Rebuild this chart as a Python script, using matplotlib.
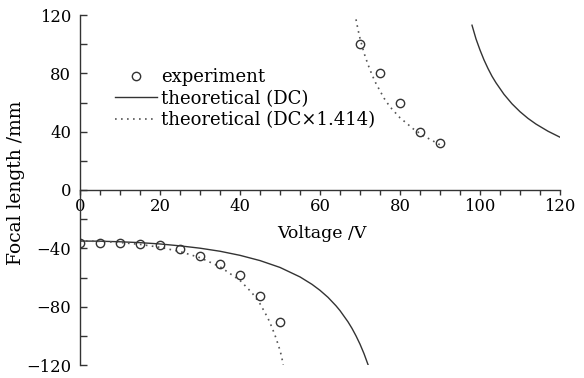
import numpy as np
import matplotlib
matplotlib.use("Agg")
import matplotlib.pyplot as plt
from matplotlib.ticker import MultipleLocator

# ---- data ----
exp_v = [0, 5, 10, 15, 20, 25, 30, 35, 40, 45, 50, 70, 75, 80, 85, 90]
exp_f = [-36, -36, -36, -37, -38, -40.5, -45.5, -50.5, -58.5, -72.5, -90.5,
         100, 80, 60, 40, 32]

dc_neg_v = [0, 5, 10, 15, 20, 25, 30, 35, 40, 45, 50, 55, 58, 60, 62, 64, 65,
            67, 68, 69, 70, 71, 72]
dc_neg_f = [-35.0, -35.1, -35.5, -36.1, -37.0, -38.3, -39.9, -42.0, -44.8, -48.4,
            -53.1, -59.6, -64.7, -68.8, -73.6, -79.4, -82.7, -90.4, -94.9,
            -100.0, -105.7, -112.2, -119.7]
dc_pos_v = [98, 99, 100, 101, 102, 103, 104, 106, 108, 110, 112, 114, 117, 120]
dc_pos_f = [113, 103.6, 96, 89.2, 83.3, 78, 73.5, 65.6, 59.1, 53.7, 49.1, 45.2,
            40.3, 36.2]

ac_neg_v = [0, 5, 10, 15, 20, 25, 30, 35, 40, 43, 44, 45, 46, 47, 48, 49,
            49.5, 50, 50.4, 50.8]
ac_neg_f = [-35.0, -35.2, -36.0, -37.3, -39.3, -42.2, -46.4, -52.6, -62.0, -70.5,
            -74.2, -78.0, -82.9, -88.0, -94.3, -101.5, -105.7, -110.0, -114.2,
            -120.0]
ac_pos_v = [69, 69.5, 70, 71, 72, 73, 74, 75, 76, 77, 78, 79, 80, 82, 83, 86,
            88, 90]
ac_pos_f = [117, 110, 104, 94, 86, 79, 73, 68, 63, 59, 55.5, 52.5, 49.5, 45,
            42.5, 37, 34, 31]

x_ticks = [0, 20, 40, 60, 80, 100, 120]
y_ticks = [-120, -80, -40, 0, 40, 80, 120]

plt.rcParams['font.family'] = ['DejaVu Serif']
col = '#333333'

fig = plt.figure(figsize=(5.84, 3.78), dpi=100)
ax = fig.add_axes([80/584, 13/378, 480/584, 350/378])

dot = (0, (1, 2.6))
ax.plot(dc_neg_v, dc_neg_f, '-', color=col, lw=1.0, label='theoretical (DC)')
ax.plot(dc_pos_v, dc_pos_f, '-', color=col, lw=1.0)
ax.plot(ac_neg_v, ac_neg_f, linestyle=dot, color='#555555', lw=1.2,
        label='theoretical (DC\u00d71.414)')
ax.plot(ac_pos_v, ac_pos_f, linestyle=dot, color='#555555', lw=1.2)
ax.plot(exp_v, exp_f, 'o', mfc='none', mec=col, mew=1.0, ms=6,
        label='experiment')

ax.set_xlim(0, 120)
ax.set_ylim(-120, 120)
ax.spines['top'].set_visible(False)
ax.spines['right'].set_visible(False)
ax.spines['bottom'].set_position(('data', 0))
ax.spines['left'].set_position(('data', 0))
for s in ('bottom', 'left'):
    ax.spines[s].set_color(col)
    ax.spines[s].set_linewidth(1.0)

ax.set_xticks(x_ticks)
ax.set_xticklabels([str(t) for t in x_ticks])
ax.xaxis.set_minor_locator(MultipleLocator(5))
ax.set_yticks(y_ticks)
ax.set_yticklabels([str(t).replace('-', '\u2212') for t in y_ticks])
ax.yaxis.set_minor_locator(MultipleLocator(20))

ax.tick_params(axis='x', which='both', direction='out', length=3.5, width=1,
               color=col, pad=2, labelsize=11.8)
ax.tick_params(axis='y', which='both', direction='in', length=5, width=1,
               color=col, pad=6.5, labelsize=11.8)

ax.text(60.5, -29.5, 'Voltage /V', ha='center', va='center', fontsize=12.5)
ax.set_ylabel('Focal length /mm', fontsize=13.5)
ax.yaxis.set_label_coords(-0.115, 0.52)

handles, labels = ax.get_legend_handles_labels()
order = [2, 0, 1]
leg = ax.legend([handles[i] for i in order], [labels[i] for i in order],
                loc='upper left', bbox_to_anchor=((115-80)/480, (365-68)/350),
                frameon=False, fontsize=13, borderpad=0, borderaxespad=0,
                handlelength=2.3, handletextpad=0.25, labelspacing=0.2)

fig.savefig('out.png', dpi=100)
